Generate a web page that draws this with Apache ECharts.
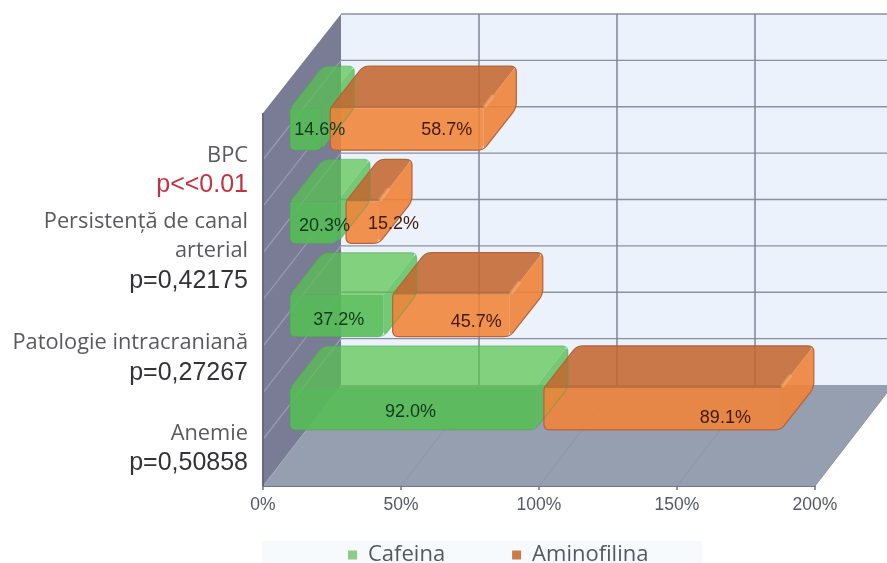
<!DOCTYPE html>
<html>
<head>
<meta charset="utf-8">
<style>html,body{margin:0;padding:0;background:#fff}#chart{width:887px;height:563px}</style>
<script src="https://cdn.jsdelivr.net/npm/echarts@6/dist/echarts.min.js"></script>
</head>
<body>
<div id="chart"></div>
<script>
// Chart data, bottom row first
const categories = ['Anemie', 'Patologie intracraniană', 'Persistență de canal\narterial', 'BPC'];
const pValues = ['p=0,50858', 'p=0,27267', 'p=0,42175', 'p<<0.01'];
const cafeina = [92.0, 37.2, 20.3, 14.6];
const aminofilina = [89.1, 45.7, 15.2, 58.7];
const xTicks = [0, 50, 100, 150, 200];

// Drawing constants for the oblique projection
const DEPTH_X = 78, DEPTH_Y = 101;      // depth of the whole plot box
const ROW_LINES = 8;                    // horizontal rules on the back wall
const BAR_SHIFT_X = 27;                 // bars stand part-way into the box
const BAR_LIFT = 9.5;                   // bar base above the row centre
const BAR_H = 42, BAR_DX = 33, BAR_DY = 42;
const BAR_GAP = 9;                      // small gap at each segment's end
const CORNER = 6;

// Value label nudges per row, relative to the centre of the front face
const greenNudge = [[-2, -18], [2, -17], [11, -17], [14, -20]];
const orangeNudge = [[63, -12], [25, -15], [31, -19], [40, -20]];
// Extra top/bottom space that moves each axis label block within its row
const labelPad = [[19, 0], [25, 0], [0, 2], [21, 0]];

// Polygon outline with per-corner rounding
function rounded(pts, radii) {
  const out = [];
  pts.forEach(function (v, i) {
    const r = radii[i];
    if (!r) { out.push(v); return; }
    const a = pts[(i + pts.length - 1) % pts.length], b = pts[(i + 1) % pts.length];
    const la = Math.hypot(a[0] - v[0], a[1] - v[1]), lb = Math.hypot(b[0] - v[0], b[1] - v[1]);
    const ta = Math.min(r / la, 0.5), tb = Math.min(r / lb, 0.5);
    const p0 = [v[0] + (a[0] - v[0]) * ta, v[1] + (a[1] - v[1]) * ta];
    const p1 = [v[0] + (b[0] - v[0]) * tb, v[1] + (b[1] - v[1]) * tb];
    for (let s = 0; s <= 6; s++) {
      const t = s / 6, u = 1 - t;
      out.push([u * u * p0[0] + 2 * u * t * v[0] + t * t * p1[0],
                u * u * p0[1] + 2 * u * t * v[1] + t * t * p1[1]]);
    }
  });
  return out;
}

function poly(points, style, z2) {
  return { type: 'polygon', shape: { points: points }, style: style, z2: z2 || 0, silent: true };
}
function seg(a, b, color, width, z2) {
  return { type: 'line', shape: { x1: a[0], y1: a[1], x2: b[0], y2: b[1] },
           style: { stroke: color, lineWidth: width }, z2: z2 || 0, silent: true };
}

// Box behind the bars: back wall, left wall, floor and their rules
function renderBox(params, api) {
  const c = params.coordSys;
  const L = c.x, R = c.x + c.width, T = c.y, B = c.y + c.height;
  const backTop = T - DEPTH_Y + 2, backBottom = B - DEPTH_Y;
  const kids = [];
  kids.push(poly([[L + DEPTH_X, backTop], [R + DEPTH_X, backTop], [R + DEPTH_X, backBottom], [L + DEPTH_X, backBottom]], { fill: '#ebf2fb' }));
  kids.push(poly([[L, T], [L + DEPTH_X, backTop], [L + DEPTH_X, backBottom], [L, B]], { fill: '#7a7c96' }));
  kids.push(poly([[L, B], [R, B], [R + DEPTH_X, backBottom], [L + DEPTH_X, backBottom]], { fill: '#969fb0' }));
  for (let i = 0; i < ROW_LINES; i++) {
    const yb = backTop + (backBottom - backTop) * i / ROW_LINES;
    const yf = T + (B - T) * i / ROW_LINES;
    kids.push(seg([L + DEPTH_X, yb], [R + DEPTH_X, yb], '#8b90a0', 1.4, 1));
    if (i > 0) kids.push(seg([L, yf], [L + DEPTH_X, yb], '#9c9eb8', 1.2, 1));
  }
  xTicks.forEach(function (t) {
    if (t === 0) return;
    const x = api.coord([t, 0])[0];
    kids.push(seg([x + DEPTH_X, backTop], [x + DEPTH_X, backBottom], '#7f8596', 1.5, 1));
    kids.push(seg([x, B], [x + DEPTH_X, backBottom], '#8c94a5', 1, 1));
  });
  kids.push(seg([L, T], [L, B], '#666a7c', 2, 2));
  return { type: 'group', children: kids };
}

// One oblique bar segment with its value label
function barRenderer(look, nudge) {
  return function (params, api) {
    const row = api.value(2);
    const a = api.coord([api.value(0), row]);
    const b = api.coord([api.value(1), row]);
    const x1 = a[0] + BAR_SHIFT_X, x2 = b[0] + BAR_SHIFT_X - BAR_GAP;
    const yb = a[1] - BAR_LIFT, yt = yb - BAR_H;
    const A = [x1, yb], B = [x1, yt], G = [x2, yt], F = [x2, yb];
    const C = [x1 + BAR_DX, yt - BAR_DY], D = [x2 + BAR_DX, yt - BAR_DY], E = [x2 + BAR_DX, yb - BAR_DY];
    const kids = [
      poly(rounded([B, C, D, G], [3, CORNER, CORNER, 0]), { fill: look.top }, 10),
      poly(rounded([G, D, E, F], [0, CORNER, CORNER, CORNER]), { fill: look.side }, 10),
      poly(rounded([A, B, G, F], [CORNER, 3, 0, CORNER]), { fill: look.front }, 11),
      poly(rounded([A, B, C, D, E, F], [CORNER, 3, CORNER, CORNER, CORNER, CORNER]),
           { fill: 'none', stroke: look.edge, lineWidth: 1.2 }, 12)
    ];
    if (look.glint) {
      kids.push(seg([x2 + 1, yt - 1], [x2 + 10, yt - 13], look.glint, 4, 12));
    }
    kids.push({
      type: 'text', z2: 50, silent: true,
      style: {
        x: (x1 + x2) / 2 + nudge[params.dataIndex][0],
        y: yb + nudge[params.dataIndex][1],
        text: (api.value(1) - api.value(0)).toFixed(1) + '%',
        align: 'center', verticalAlign: 'middle',
        font: '18px "Liberation Sans"', fill: look.ink
      }
    });
    return { type: 'group', children: kids };
  };
}

const greenLook = {
  front: 'rgba(86,188,86,0.9)', top: 'rgba(88,195,78,0.72)', side: 'rgba(86,190,82,0.8)',
  edge: 'rgba(70,165,80,0.45)', ink: '#0f3a1c'
};
const orangeLook = {
  front: 'rgba(241,131,56,0.88)', top: 'rgba(196,104,48,0.88)', side: 'rgba(238,130,56,0.9)',
  edge: '#b4633a', ink: '#431a08', glint: 'rgba(255,190,120,0.4)'
};

const greenRows = cafeina.map(function (v, i) { return [0, v, i]; });
const orangeRows = aminofilina.map(function (v, i) { return [cafeina[i], cafeina[i] + v, i]; });

const chart = echarts.init(document.getElementById('chart'));
chart.setOption({
  animation: false,
  backgroundColor: '#ffffff',
  graphic: [{
    type: 'rect', silent: true, z: -1,
    shape: { x: 262, y: 541, width: 440, height: 22 },
    style: { fill: '#f6fafd' }
  }],
  grid: { left: 263, top: 113, width: 552, height: 373, containLabel: false },
  xAxis: {
    type: 'value', min: 0, max: 200, interval: 50,
    splitLine: { show: false },
    axisLine: { show: true, lineStyle: { color: '#6f7585', width: 2 } },
    axisTick: { show: true, length: 4, lineStyle: { color: '#6f7585', width: 1.5 } },
    axisLabel: {
      formatter: '{value}%', margin: 10,
      color: '#55595f', fontSize: 17.5, fontFamily: 'Liberation Sans'
    }
  },
  yAxis: {
    type: 'category',
    data: categories.map(function (name, i) {
      return { value: name, textStyle: { padding: [labelPad[i][0], 0, labelPad[i][1], 0] } };
    }),
    axisLine: { show: false },
    axisTick: { show: false },
    axisLabel: {
      margin: 15, align: 'right', interval: 0,
      formatter: function (name, i) {
        const lines = name.split('\n').map(function (l) { return '{n|' + l + '}'; });
        lines.push((pValues[i].indexOf('<') >= 0 ? '{r|' : '{p|') + pValues[i] + '}');
        return lines.join('\n');
      },
      rich: {
        n: { fontFamily: 'Open Sans', fontSize: 21.8, color: '#5a5a5e', lineHeight: 29, align: 'right' },
        p: { fontFamily: 'Liberation Sans', fontSize: 25, color: '#333337', lineHeight: 31, align: 'right' },
        r: { fontFamily: 'Liberation Sans', fontSize: 25, color: '#c4323f', lineHeight: 29, align: 'right' }
      }
    }
  },
  legend: {
    left: 343, top: 539, itemWidth: 9, itemHeight: 9, itemGap: 67, icon: 'rect',
    data: ['Cafeina', 'Aminofilina'],
    textStyle: { fontFamily: 'Open Sans', fontSize: 22, color: '#55585e', padding: [0, 0, 0, 6] }
  },
  series: [
    {
      type: 'custom', name: 'box', data: [[0, 0]], encode: { x: 0, y: 1 },
      renderItem: renderBox, silent: true, z: 1
    },
    {
      type: 'custom', name: 'Cafeina', data: greenRows, encode: { x: [0, 1], y: 2 },
      itemStyle: { color: '#8ccb88' }, renderItem: barRenderer(greenLook, greenNudge), z: 3
    },
    {
      type: 'custom', name: 'Aminofilina', data: orangeRows, encode: { x: [0, 1], y: 2 },
      itemStyle: { color: '#c97b48' }, renderItem: barRenderer(orangeLook, orangeNudge), z: 3
    }
  ]
});
</script>
</body>
</html>
